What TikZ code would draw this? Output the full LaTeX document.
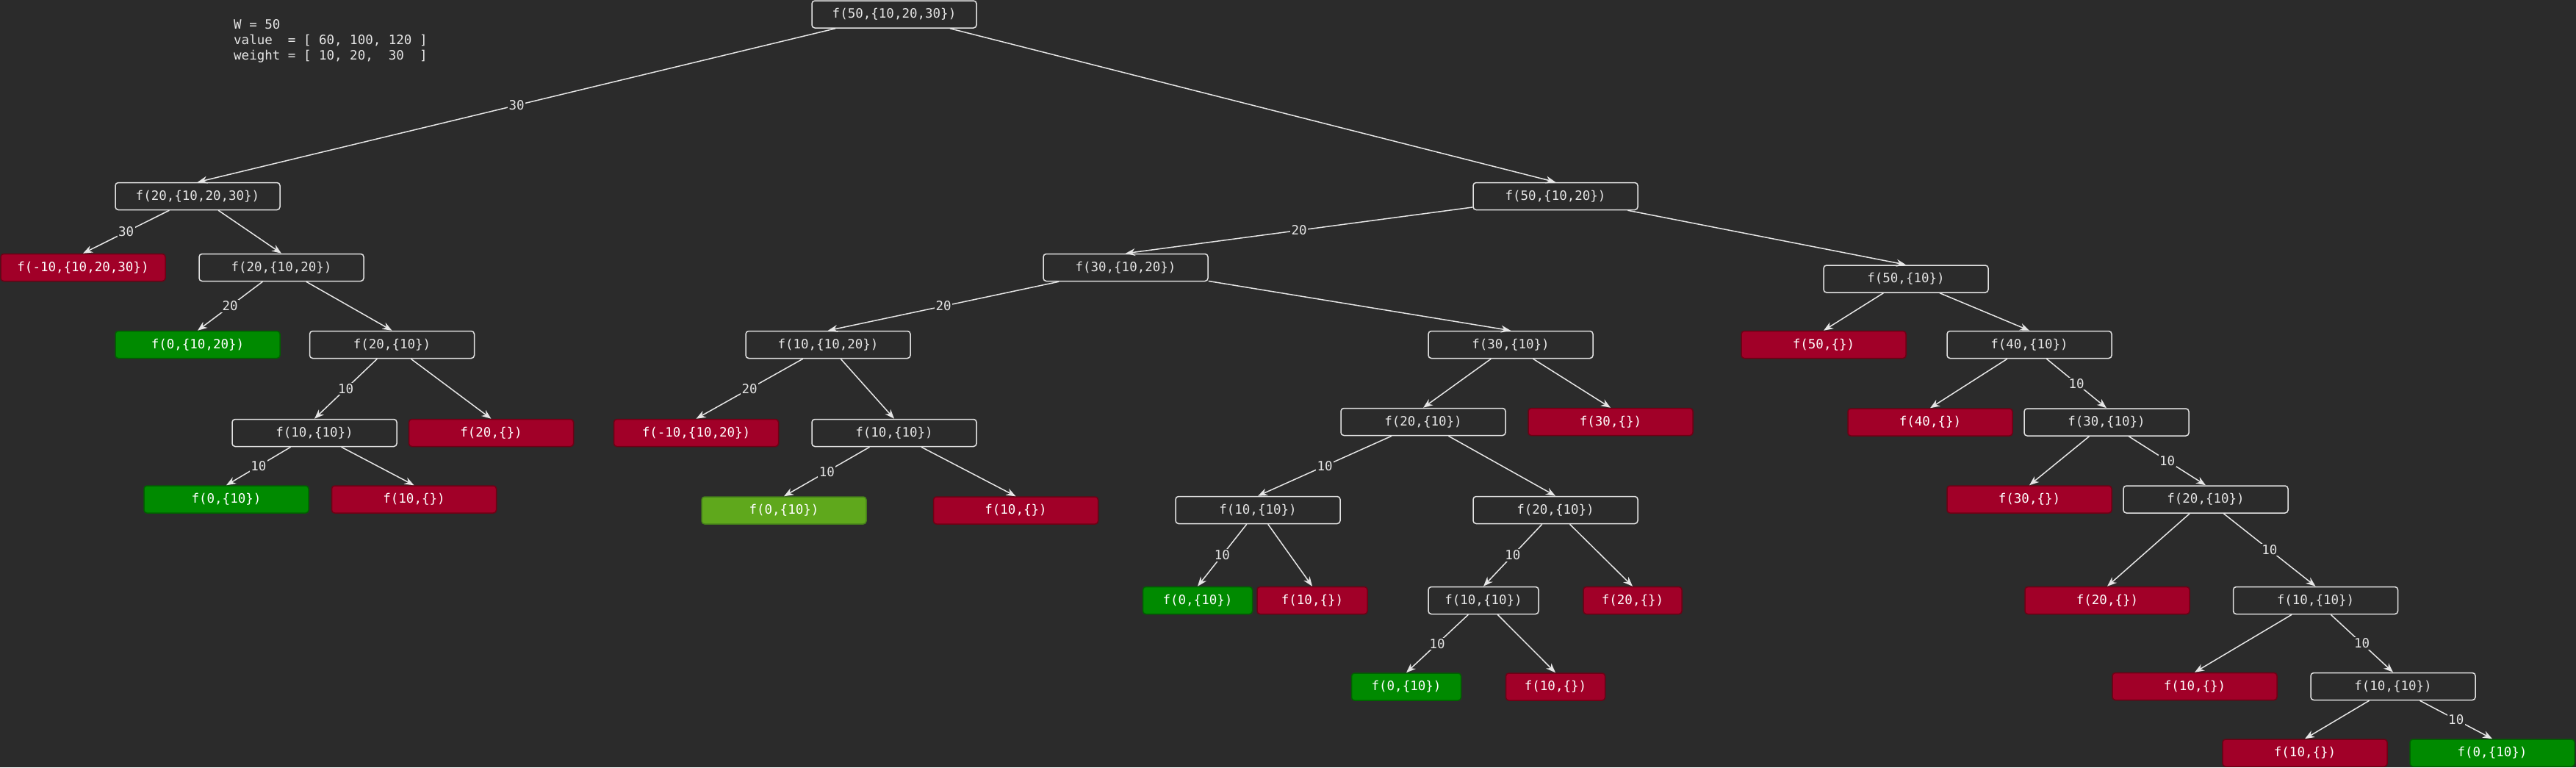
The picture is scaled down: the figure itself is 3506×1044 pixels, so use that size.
\documentclass[tikz,border=0pt]{standalone}
\usepackage{fontspec}
\usepackage{xcolor}
\usepackage{tikz}
\usetikzlibrary{arrows.meta}

\newfontfamily\treemono{DejaVu Sans Mono}
\newcommand{\treefont}{\treemono\fontsize{17.5pt}{21pt}\selectfont}

\definecolor{bgcol}{HTML}{2B2B2B}
\definecolor{boxline}{HTML}{E2E2E2}
\definecolor{txtcol}{HTML}{E6E6E6}
\definecolor{linecol}{HTML}{E6E6E6}
\definecolor{overfill}{HTML}{A10028}
\definecolor{overline}{HTML}{6E0014}
\definecolor{fitfill}{HTML}{008A00}
\definecolor{fitline}{HTML}{006000}
\definecolor{fitlight}{HTML}{5FA81C}
\definecolor{fitlightline}{HTML}{45801A}

\begin{document}
\begin{tikzpicture}[x=1pt, y=-1pt, >={Stealth[length=13pt,width=10pt]},
    callbox/.style={draw=boxline, fill=bgcol, text=txtcol, rounded corners=4pt,
        line width=1.5pt, minimum width=224pt, minimum height=37pt,
        inner sep=0pt, font=\treefont},
    overbox/.style={callbox, draw=overline, fill=overfill, text=white},
    fitbox/.style={callbox, draw=fitline, fill=fitfill, text=white},
    fitboxlight/.style={callbox, draw=fitlightline, fill=fitlight, text=white},
    link/.style={->, draw=linecol, line width=1.5pt},
    wt/.style={fill=bgcol, text=txtcol, inner sep=1.5pt, font=\treefont}]

% background and page size
\fill[bgcol] (0,0) rectangle (3506,1044);
\useasboundingbox (0,0) rectangle (3506,1044);

% problem data
\node[anchor=north west, align=left, inner sep=0pt, text=txtcol, font=\treefont] (data) at (318,26)
    {W~=~50\\value~~=~[~60,~100,~120~]\\weight~=~[~10,~20,~~30~~]};

% ===========================
% Root
% ===========================
\node[callbox] (r) at (1217,19.5) {f(50,\{10,20,30\})};

% ===========================
% LEFT: take item 30
% ===========================
\node[callbox] (a) at (269,267) {f(20,\{10,20,30\})};
\node[overbox] (a1) at (113,364) {f(-10,\{10,20,30\})};
\node[callbox] (a2) at (383,364) {f(20,\{10,20\})};
\node[fitbox]  (a21) at (269,469) {f(0,\{10,20\})};
\node[callbox] (a22) at (533.5,469) {f(20,\{10\})};
\node[callbox] (a221) at (428,589) {f(10,\{10\})};
\node[overbox] (a222) at (668.5,589) {f(20,\{\})};
\node[fitbox]  (a2211) at (308,679.5) {f(0,\{10\})};
\node[overbox] (a2212) at (563.5,679.5) {f(10,\{\})};

% ===========================
% RIGHT: skip item 30
% ===========================
\node[callbox] (b) at (2117,267) {f(50,\{10,20\})};

% take item 20
\node[callbox] (b1) at (1532,364) {f(30,\{10,20\})};
\node[callbox] (b11) at (1127,469) {f(10,\{10,20\})};
\node[overbox] (b111) at (947.5,589) {f(-10,\{10,20\})};
\node[callbox] (b112) at (1217,589) {f(10,\{10\})};
\node[fitboxlight] (b1121) at (1067,694.5) {f(0,\{10\})};
\node[overbox] (b1122) at (1382.5,694.5) {f(10,\{\})};

\node[callbox] (b12) at (2056,469) {f(30,\{10\})};
\node[callbox] (b121) at (1937,574) {f(20,\{10\})};
\node[overbox] (b122) at (2192,574) {f(30,\{\})};
\node[callbox] (b1211) at (1712,694) {f(10,\{10\})};
\node[callbox] (b1212) at (2117,694) {f(20,\{10\})};
\node[fitbox, minimum width=149pt]  (b12111) at (1630,817) {f(0,\{10\})};
\node[overbox, minimum width=150pt] (b12112) at (1786,817) {f(10,\{\})};
\node[callbox, minimum width=150pt] (b12121) at (2019,817) {f(10,\{10\})};
\node[overbox, minimum width=134pt] (b12122) at (2222,817) {f(20,\{\})};
\node[fitbox, minimum width=149pt]  (b121211) at (1914,934.5) {f(0,\{10\})};
\node[overbox, minimum width=135pt] (b121212) at (2117,934.5) {f(10,\{\})};

% skip item 20
\node[callbox] (b2) at (2594,379.5) {f(50,\{10\})};
\node[overbox] (b21) at (2482,469) {f(50,\{\})};
\node[callbox] (b22) at (2762,469) {f(40,\{10\})};
\node[overbox] (b221) at (2627,574.5) {f(40,\{\})};
\node[callbox] (b222) at (2867,574.5) {f(30,\{10\})};
\node[overbox] (b2221) at (2762,679.5) {f(30,\{\})};
\node[callbox] (b2222) at (3002,679.5) {f(20,\{10\})};
\node[overbox] (b22221) at (2868,817) {f(20,\{\})};
\node[callbox] (b22222) at (3151.5,817) {f(10,\{10\})};
\node[overbox] (b222221) at (2987,934) {f(10,\{\})};
\node[callbox] (b222222) at (3257,934) {f(10,\{10\})};
\node[overbox] (b2222221) at (3137,1024.5) {f(10,\{\})};
\node[fitbox]  (b2222222) at (3392,1024.5) {f(0,\{10\})};

% ===========================
% Calls
% ===========================
\draw[link] (r) -- (a.north) node[wt, midway] {30};
\draw[link] (r) -- (b.north);

\draw[link] (a) -- (a1.north) node[wt, midway] {30};
\draw[link] (a) -- (a2.north);
\draw[link] (a2) -- (a21.north) node[wt, midway] {20};
\draw[link] (a2) -- (a22.north);
\draw[link] (a22) -- (a221.north) node[wt, midway] {10};
\draw[link] (a22) -- (a222.north);
\draw[link] (a221) -- (a2211.north) node[wt, midway] {10};
\draw[link] (a221) -- (a2212.north);

\draw[link] (b) -- (b1.north) node[wt, midway] {20};
\draw[link] (b) -- (b2.north);

\draw[link] (b1) -- (b11.north) node[wt, midway] {20};
\draw[link] (b1) -- (b12.north);
\draw[link] (b11) -- (b111.north) node[wt, midway] {20};
\draw[link] (b11) -- (b112.north);
\draw[link] (b112) -- (b1121.north) node[wt, midway] {10};
\draw[link] (b112) -- (b1122.north);

\draw[link] (b12) -- (b121.north);
\draw[link] (b12) -- (b122.north);
\draw[link] (b121) -- (b1211.north) node[wt, midway] {10};
\draw[link] (b121) -- (b1212.north);
\draw[link] (b1211) -- (b12111.north) node[wt, midway] {10};
\draw[link] (b1211) -- (b12112.north);
\draw[link] (b1212) -- (b12121.north) node[wt, midway] {10};
\draw[link] (b1212) -- (b12122.north);
\draw[link] (b12121) -- (b121211.north) node[wt, midway] {10};
\draw[link] (b12121) -- (b121212.north);

\draw[link] (b2) -- (b21.north);
\draw[link] (b2) -- (b22.north);
\draw[link] (b22) -- (b221.north);
\draw[link] (b22) -- (b222.north) node[wt, midway] {10};
\draw[link] (b222) -- (b2221.north);
\draw[link] (b222) -- (b2222.north) node[wt, midway] {10};
\draw[link] (b2222) -- (b22221.north);
\draw[link] (b2222) -- (b22222.north) node[wt, midway] {10};
\draw[link] (b22222) -- (b222221.north);
\draw[link] (b22222) -- (b222222.north) node[wt, midway] {10};
\draw[link] (b222222) -- (b2222221.north);
\draw[link] (b222222) -- (b2222222.north) node[wt, midway] {10};

\end{tikzpicture}
\end{document}
